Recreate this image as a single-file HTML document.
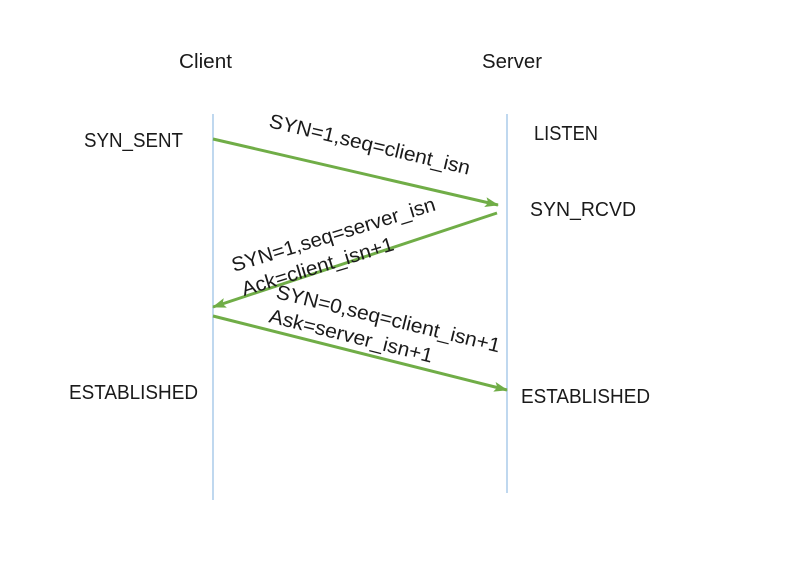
<!DOCTYPE html>
<html><head><meta charset="utf-8"><style>
html,body{margin:0;padding:0;background:#fff;}
svg{display:block;}
text{font-family:"Liberation Sans",sans-serif;font-size:20px;fill:#1a1a1a;}
</style></head><body>
<svg width="787" height="575" viewBox="0 0 787 575" xmlns="http://www.w3.org/2000/svg">
<defs>
<marker id="a" markerWidth="14" markerHeight="10" refX="13" refY="5" orient="auto" markerUnits="userSpaceOnUse">
<path d="M0,0 L14,5 L0,10 L3,5 Z" fill="#70ad47"/>
</marker>
</defs>
<line x1="213" y1="114" x2="213" y2="500" stroke="#9dc3e6" stroke-width="1.3"/>
<line x1="507" y1="114" x2="507" y2="493" stroke="#9dc3e6" stroke-width="1.3"/>
<line x1="213" y1="139" x2="498" y2="205" stroke="#70ad47" stroke-width="3" marker-end="url(#a)"/>
<line x1="497" y1="213" x2="213" y2="307" stroke="#70ad47" stroke-width="3" marker-end="url(#a)"/>
<line x1="213" y1="316" x2="507" y2="390" stroke="#70ad47" stroke-width="3" marker-end="url(#a)"/>
<text x="179" y="68" textLength="53" lengthAdjust="spacingAndGlyphs">Client</text>
<text x="482" y="68" textLength="60" lengthAdjust="spacingAndGlyphs">Server</text>
<text x="84" y="147" textLength="99" lengthAdjust="spacingAndGlyphs">SYN_SENT</text>
<text x="534" y="140" textLength="64" lengthAdjust="spacingAndGlyphs">LISTEN</text>
<text x="530" y="216" textLength="106" lengthAdjust="spacingAndGlyphs">SYN_RCVD</text>
<text x="69" y="399" textLength="129" lengthAdjust="spacingAndGlyphs">ESTABLISHED</text>
<text x="521" y="403" textLength="129" lengthAdjust="spacingAndGlyphs">ESTABLISHED</text>
<text transform="translate(268,127) rotate(13.4)" textLength="206" lengthAdjust="spacingAndGlyphs">SYN=1,seq=client_isn</text>
<text transform="translate(234,272) rotate(-17)" textLength="212" lengthAdjust="spacingAndGlyphs">SYN=1,seq=server_isn</text>
<text transform="translate(244,296) rotate(-17)" textLength="158" lengthAdjust="spacingAndGlyphs">Ack=client_isn+1</text>
<text transform="translate(275,298) rotate(13.7)" textLength="230" lengthAdjust="spacingAndGlyphs">SYN=0,seq=client_isn+1</text>
<text transform="translate(268,322) rotate(14)" textLength="168" lengthAdjust="spacingAndGlyphs">Ask=server_isn+1</text>
</svg>
</body></html>
